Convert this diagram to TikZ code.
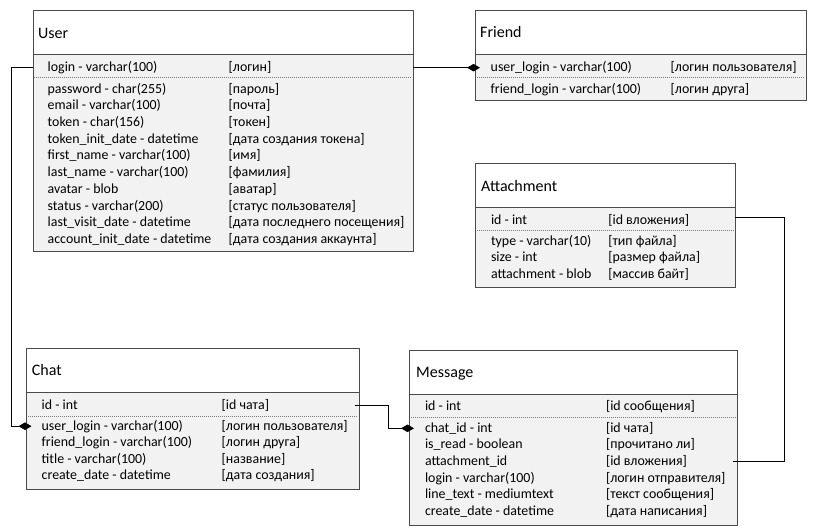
\documentclass[tikz,border=0pt]{standalone}
\usepackage{fontspec}
\setmainfont{Carlito}
\usetikzlibrary{arrows.meta}
\definecolor{bodyfill}{HTML}{F2F2F2}
\definecolor{edgecol}{HTML}{4A4A4A}
\definecolor{sepcol}{HTML}{7A7A7A}
\newcommand{\fieldrow}[6]{%
  \node[fld] (#1) at (#2,#4) {#5};
  \node[fld] (#1C) at (#3,#4) {#6};}
\begin{document}
\begin{tikzpicture}[x=1pt,y=-1pt,
  tbl/.style={draw=edgecol, line width=0.9pt, fill=bodyfill, anchor=north west, inner sep=0pt, outer sep=0pt},
  hdr/.style={draw=edgecol, line width=0.9pt, fill=white, anchor=north west, inner sep=0pt, outer sep=0pt, minimum height=43.5pt},
  ttl/.style={anchor=base west, inner sep=0pt, font=\fontsize{16}{19}\selectfont},
  fld/.style={anchor=west, inner sep=0pt, outer sep=0pt, text height=10.6pt, text depth=3pt, font=\fontsize{13.9}{17}\selectfont},
  sep/.style={draw=sepcol, line width=0.8pt, dash pattern=on 1pt off 1pt},
  conn/.style={draw=black, line width=0.8pt},
  dia/.style={-{Diamond[length=13pt,width=7.5pt]}, shorten >=-5pt}]
\useasboundingbox (0,0) rectangle (814,531);

% ---------- User ----------
\node[tbl, minimum width=380pt, minimum height=240.5pt] (user) at (33,10.7) {};
\node[hdr, minimum width=380pt] (userH) at (33,10.7) {};
\node[ttl] (userT) at (38,38.3) {User};
\fieldrow{uLogin}{47.7}{228.7}{67.7}{login - varchar(100)}{[логин]}
\draw[sep] (34,77) -- (412,77);
\fieldrow{uPass}{47.7}{228.7}{89.3}{password - char(255)}{[пароль]}
\fieldrow{uMail}{47.7}{228.7}{106}{email - varchar(100)}{[почта]}
\fieldrow{uTok}{47.7}{228.7}{122.7}{token - char(156)}{[токен]}
\fieldrow{uTokD}{47.7}{228.7}{139.4}{token\_init\_date - datetime}{[дата создания токена]}
\fieldrow{uFirst}{47.7}{228.7}{156.1}{first\_name - varchar(100)}{[имя]}
\fieldrow{uLast}{47.7}{228.7}{172.8}{last\_name - varchar(100)}{[фамилия]}
\fieldrow{uAva}{47.7}{228.7}{189.5}{avatar - blob}{[аватар]}
\fieldrow{uStat}{47.7}{228.7}{206.2}{status - varchar(200)}{[статус пользователя]}
\fieldrow{uVisit}{47.7}{228.7}{222.9}{last\_visit\_date - datetime}{[дата последнего посещения]}
\fieldrow{uAcc}{47.7}{228.7}{239.7}{account\_init\_date - datetime}{[дата создания аккаунта]}

% ---------- Friend ----------
\node[tbl, minimum width=331pt, minimum height=89.5pt] (friend) at (475,10.7) {};
\node[hdr, minimum width=331pt] (friendH) at (475,10.7) {};
\node[ttl] (friendT) at (480,37.7) {Friend};
\fieldrow{fUser}{490.7}{670.7}{67.7}{user\_login - varchar(100)}{[логин пользователя]}
\draw[sep] (477,77) -- (805,77);
\fieldrow{fFriend}{490.7}{670.7}{89.3}{friend\_login - varchar(100)}{[логин друга]}

% ---------- Attachment ----------
\node[tbl, minimum width=260pt, minimum height=124pt] (attach) at (475,163) {};
\node[hdr, minimum width=260pt, minimum height=44pt] (attachH) at (475,163) {};
\node[ttl] (attachT) at (481,191) {Attachment};
\fieldrow{aId}{491}{608.3}{221}{id - int}{[id вложения]}
\draw[sep] (477,230) -- (734,230);
\fieldrow{aType}{491}{608.3}{241.3}{type - varchar(10)}{[тип файла]}
\fieldrow{aSize}{491}{608.3}{258}{size - int}{[размер файла]}
\fieldrow{aBlob}{491}{608.3}{274.7}{attachment - blob}{[массив байт]}

% ---------- Chat ----------
\node[tbl, minimum width=333pt, minimum height=140.7pt] (chat) at (26.5,348.3) {};
\node[hdr, minimum width=333pt, minimum height=44pt] (chatH) at (26.5,348.3) {};
\node[ttl] (chatT) at (31.7,375.7) {Chat};
\fieldrow{cId}{41.7}{221.7}{405.5}{id - int}{[id чата]}
\draw[sep] (28,416) -- (358,416);
\fieldrow{cUser}{41.7}{221.7}{426.2}{user\_login - varchar(100)}{[логин пользователя]}
\fieldrow{cFriend}{41.7}{221.7}{442.8}{friend\_login - varchar(100)}{[логин друга]}
\fieldrow{cTitle}{41.7}{221.7}{459.4}{title - varchar(100)}{[название]}
\fieldrow{cDate}{41.7}{221.7}{476}{create\_date - datetime}{[дата создания]}

% ---------- Message ----------
\node[tbl, minimum width=328pt, minimum height=175pt] (msg) at (409,350) {};
\node[hdr, minimum width=328pt, minimum height=44pt] (msgH) at (409,350) {};
\node[ttl] (msgT) at (416,377.7) {Message};
\fieldrow{mId}{425}{606}{406.7}{id - int}{[id сообщения]}
\draw[sep] (411,417) -- (736,417);
\fieldrow{mChat}{425}{606}{428.3}{chat\_id - int}{[id чата]}
\fieldrow{mRead}{425}{606}{445}{is\_read - boolean}{[прочитано ли]}
\fieldrow{mAtt}{425}{606}{461.7}{attachment\_id}{[id вложения]}
\fieldrow{mLogin}{425}{606}{478.3}{login - varchar(100)}{[логин отправителя]}
\fieldrow{mText}{425}{606}{495}{line\_text - mediumtext}{[текст сообщения]}
\fieldrow{mDate}{425}{606}{511.7}{create\_date - datetime}{[дата написания]}

% ---------- connectors ----------
\coordinate (bendL) at (11.5,0);
\coordinate (bendC) at (388,0);
\coordinate (bendA) at (784.5,0);
\draw[conn,dia] (uLogin -| user.east) -- (fUser -| friend.west);
\draw[conn,dia] (uLogin -| user.west) -- (uLogin -| bendL) |- (cUser -| chat.west);
\draw[conn,dia] ([xshift=-5pt]cId -| chat.east) -- (cId -| bendC) |- (mChat -| msg.west);
\draw[conn] ([yshift=4pt]aId -| attach.east) -- ([yshift=4pt]aId -| bendA) |- ([xshift=-4pt]mAtt -| msg.east);
\end{tikzpicture}
\end{document}
